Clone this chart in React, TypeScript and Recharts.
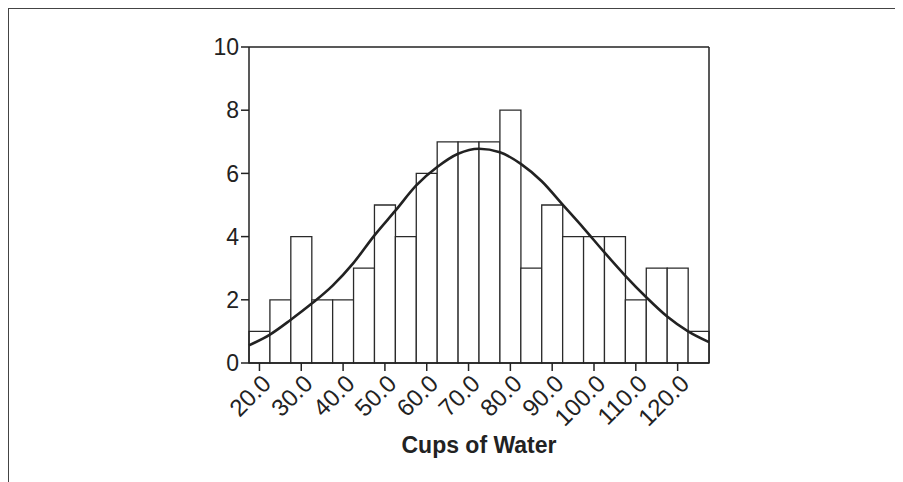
import { Bar, ComposedChart, Label, Line, ReferenceLine, XAxis, YAxis } from 'recharts';

// histogram bins (centre of each 5-cup bin) and counts
const binCenters = [20, 25, 30, 35, 40, 45, 50, 55, 60, 65, 70, 75, 80, 85, 90, 95, 100, 105, 110, 115, 120, 125];
const counts = [1, 2, 4, 2, 2, 3, 5, 4, 6, 7, 7, 7, 8, 3, 5, 4, 4, 4, 2, 3, 3, 1];

// fitted curve at the bin edges
const curveX = [17.5, 22.5, 27.5, 32.5, 37.5, 42.5, 47.5, 52.5, 57.5, 62.5, 67.5, 72.5, 77.5, 82.5, 87.5, 92.5, 97.5, 102.5, 107.5, 112.5, 117.5, 122.5, 127.5];
const curveY = [0.56, 0.9, 1.37, 1.88, 2.45, 3.17, 4.04, 4.82, 5.62, 6.2, 6.62, 6.78, 6.67, 6.3, 5.75, 5.01, 4.27, 3.5, 2.76, 2.08, 1.47, 1.0, 0.66];

const xTicks = [20, 30, 40, 50, 60, 70, 80, 90, 100, 110, 120];
const yTicks = [0, 2, 4, 6, 8, 10];
const xDomain = [17.5, 127.5];

const bars = binCenters.map((x, i) => ({ x, count: counts[i] }));
const curve = curveX.map((x, i) => ({ x, fit: curveY[i] }));

const FONT = '"Liberation Sans", Arial, Helvetica, sans-serif';
const INK = '#222';

const AngledTick = (props: any) => {
  const { x, y, payload } = props;
  const ax = x + 13;
  const ay = y + 12;
  return (
    <text
      x={ax}
      y={ay}
      textAnchor="end"
      transform={`rotate(-45, ${ax}, ${ay})`}
      fontSize={24}
      fontFamily={FONT}
      fill={INK}
    >
      {Number(payload.value).toFixed(1)}
    </text>
  );
};

export default function App() {
  return (
    <div style={{ position: 'relative', width: 895, height: 474, overflow: 'hidden' }}>
      <div
        style={{
          position: 'absolute',
          left: 0,
          top: 0,
          width: 2000,
          height: 2000,
          borderTop: '1.5px solid #444',
          borderLeft: '1.5px solid #444',
        }}
      />
      <div style={{ position: 'absolute', left: 0, top: 0 }}>
        <ComposedChart
          width={895}
          height={474}
          data={bars}
          margin={{ top: 39, right: 194, bottom: 19, left: 181 }}
          barCategoryGap={0}
          barGap={0}
        >
          <XAxis
            xAxisId="bins"
            dataKey="x"
            type="number"
            domain={xDomain}
            ticks={xTicks}
            interval={0}
            height={100}
            tickSize={8}
            stroke={INK}
            strokeWidth={1.5}
            tick={<AngledTick />}
          >
            <Label
              value="Cups of Water"
              position="insideBottom"
              offset={10}
              style={{ fontSize: 23, fontWeight: 'bold', fontFamily: FONT, fill: INK }}
            />
          </XAxis>
          <XAxis xAxisId="fit" dataKey="x" type="number" domain={xDomain} hide />
          <YAxis
            domain={[0, 10]}
            ticks={yTicks}
            width={60}
            tickSize={8}
            stroke={INK}
            strokeWidth={1.5}
            tick={{ fontSize: 23, fontFamily: FONT, fill: INK }}
          />
          <ReferenceLine xAxisId="bins" y={10} stroke={INK} strokeWidth={1.5} />
          <ReferenceLine xAxisId="bins" x={127.5} stroke={INK} strokeWidth={1.5} />
          <Bar
            xAxisId="bins"
            dataKey="count"
            fill="#fff"
            stroke="#2a2a2a"
            strokeWidth={1.3}
            isAnimationActive={false}
          />
          <Line
            xAxisId="fit"
            data={curve}
            dataKey="fit"
            type="monotone"
            stroke={INK}
            strokeWidth={2.6}
            dot={false}
            isAnimationActive={false}
          />
        </ComposedChart>
      </div>
    </div>
  );
}
